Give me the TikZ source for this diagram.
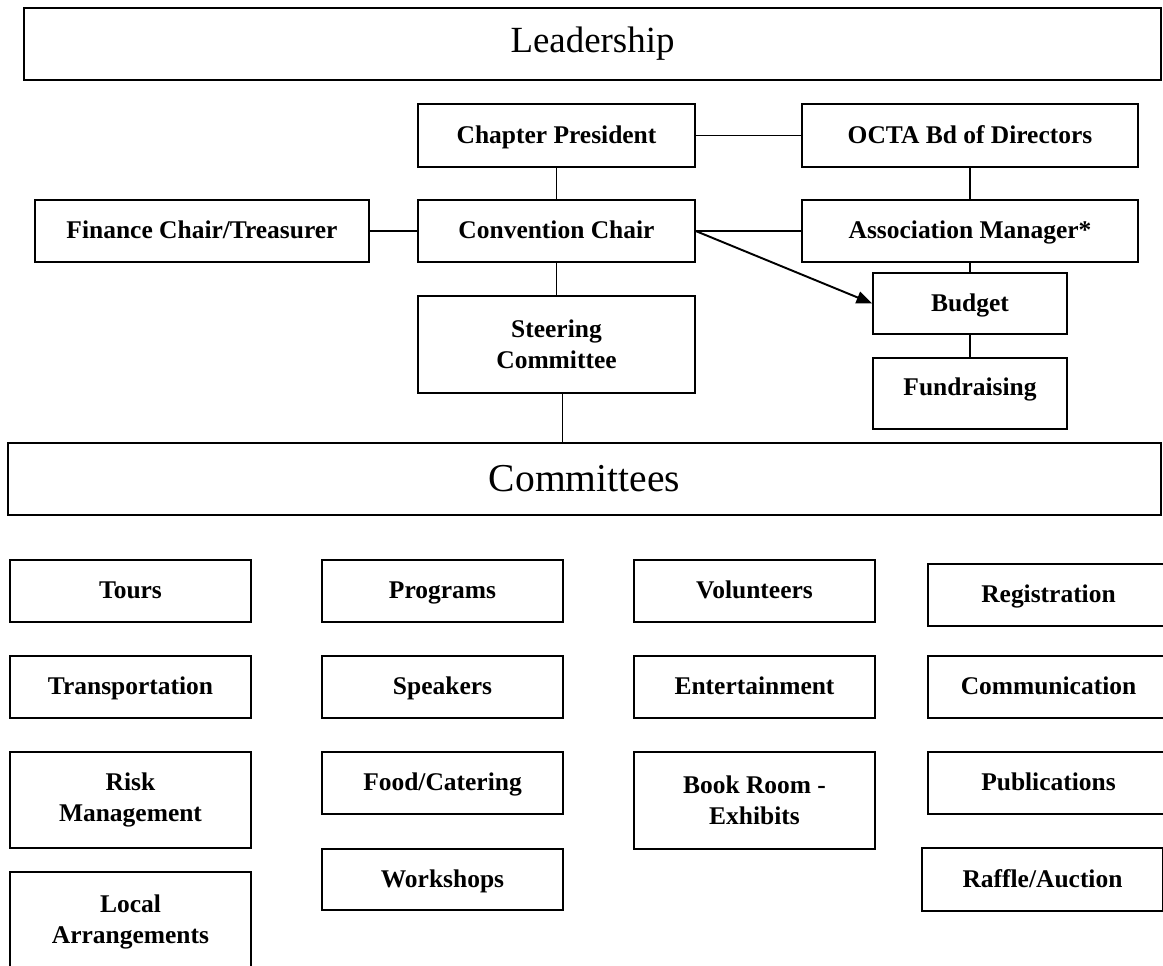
\documentclass[tikz,border=0pt]{standalone}
\usepackage{fontspec}
\setmainfont{Liberation Serif}
\usetikzlibrary{arrows.meta}

\begin{document}
\begin{tikzpicture}[x=0.02cm,y=-0.02cm,
		box2/.style={draw,line width=0.8pt,align=center,inner sep=0pt,font=\fontsize{14.5}{17.6}\selectfont\bfseries},
		box/.style={box2,text height=10pt,text depth=1.4pt},
		head/.style={draw,line width=0.8pt,inner sep=0pt},
		sz/.style 2 args={minimum width=#1*0.02cm,minimum height=#2*0.02cm},
		link/.style={line width=0.6pt}]
		\path[use as bounding box,clip] (0,0) rectangle (1163,965);
		% leadership part
		\node[head,sz={1137}{72},font=\fontsize{21}{25}\selectfont] (lead) at (592.5,44) {Leadership};
		\node[box,sz={277}{63}] (pres) at (556.5,135.5) {Chapter President};
		\node[box,sz={336}{63}] (octa) at (970,135.5) {OCTA Bd of Directors};
		\node[box,sz={334}{62}] (fin) at (202,231) {Finance Chair/Treasurer};
		\node[box,sz={277}{62}] (conv) at (556.5,231) {Convention Chair};
		\node[box,sz={336}{62}] (assoc) at (970,231) {Association Manager*};
		\node[box,sz={194}{61}] (budget) at (970,303.5) {Budget};
		\node[box,sz={194}{71},text depth=7.2pt] (fund) at (970,393.5) {Fundraising};
		\node[box2,sz={277}{97}] (steer) at (556.5,344.5) {Steering\\Committee};
		\node[head,sz={1153}{72},font=\fontsize{22.5}{26}\selectfont] (comm) at (584.5,479) {Committees};
		\draw[link] (pres) -- (octa);
		\draw[link] (pres) -- (conv);
		\draw[link] (fin) -- (conv);
		\draw[link] (conv) -- (assoc);
		\draw[link] (octa) -- (assoc);
		\draw[link] (assoc) -- (budget);
		\draw[link] (budget) -- (fund);
		\draw[link] (conv) -- (steer);
		\draw[link] ([xshift=6*0.02cm]steer.south) -- ([xshift=6*0.02cm]steer.south |- comm.north);
		\draw[line width=1.1pt,-{Triangle[length=9pt,width=7pt]}] (conv.east) -- (budget.west);
		% committees
		\node[box,sz={241}{62}] (tours) at (130.5,591) {Tours};
		\node[box,sz={241}{62}] (prog) at (442.5,591) {Programs};
		\node[box,sz={241}{62}] (vol) at (754.5,591) {Volunteers};
		\node[box,sz={241}{62}] (reg) at (1048.5,595) {Registration};
		\node[box,sz={241}{62}] (trans) at (130.5,687) {Transportation};
		\node[box,sz={241}{62}] (speak) at (442.5,687) {Speakers};
		\node[box,sz={241}{62}] (ent) at (754.5,687) {Entertainment};
		\node[box,sz={241}{62}] (commu) at (1048.5,687) {Communication};
		\node[box2,sz={241}{96}] (risk) at (130.5,800) {Risk\\Management};
		\node[box,sz={241}{62}] (food) at (442.5,783) {Food/Catering};
		\node[box2,sz={241}{97}] (book) at (754.5,800.5) {Book Room -\\Exhibits};
		\node[box,sz={241}{62}] (publ) at (1048.5,783) {Publications};
		\node[box2,sz={241}{100}] (local) at (130.5,922) {Local\\Arrangements};
		\node[box,sz={241}{61}] (work) at (442.5,879.5) {Workshops};
		\node[box,sz={241}{63}] (raff) at (1042.5,879.5) {Raffle/Auction};
\end{tikzpicture}
\end{document}
